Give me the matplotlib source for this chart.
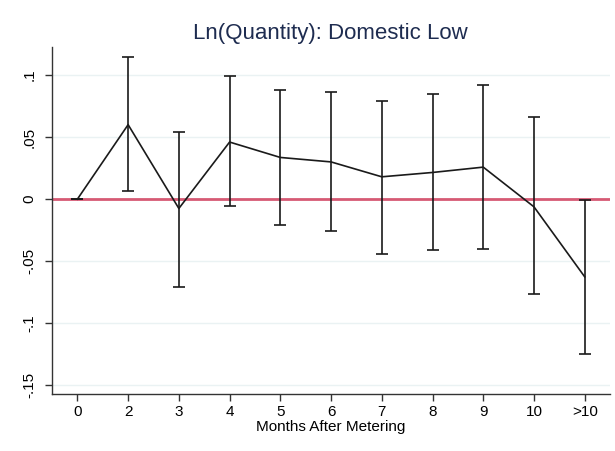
import numpy as np
import matplotlib.pyplot as plt

plt.rcParams['font.family'] = ['Liberation Sans', 'DejaVu Sans']

# coefficient estimates and 95% CI by months after metering
months = ['0', '2', '3', '4', '5', '6', '7', '8', '9', '10', '>10']
coef = [0.0, 0.060, -0.0075, 0.046, 0.0336, 0.030, 0.018, 0.0215, 0.0258, -0.0062, -0.0626]
ci_hi = [0.0, 0.1148, 0.0543, 0.0995, 0.0879, 0.0860, 0.0793, 0.0847, 0.0919, 0.0659, -0.0008]
ci_lo = [0.0, 0.0067, -0.0707, -0.0059, -0.021, -0.0255, -0.0438, -0.0411, -0.040, -0.0766, -0.125]

coef = np.array(coef)
x = np.arange(len(months))
yerr = np.vstack([coef - np.array(ci_lo), np.array(ci_hi) - coef])

fig = plt.figure(figsize=(6.15, 4.51), dpi=100)
ax = fig.add_axes([0.0846, 0.1264, 0.9074, 0.7694])

for yv in [-0.15, -0.1, -0.05, 0.05, 0.1]:
    ax.axhline(yv, color='#eaf2f3', lw=1.0, zorder=0)
ax.axhline(0, color='#d65a74', lw=2.0, zorder=1)

ax.errorbar(x, coef, yerr=yerr, fmt='none', ecolor='#1a1a1a', elinewidth=1.2,
            capsize=4, capthick=1.2, zorder=3)
ax.plot(x, coef, color='#1a1a1a', lw=1.2, zorder=3)

ax.set_xlim(-0.5, 10.5)
ax.set_ylim(-0.157, 0.1226)
ax.set_xticks(x)
ax.set_xticklabels(months, fontsize=11)
ax.set_yticks([-0.15, -0.1, -0.05, 0, 0.05, 0.1])
ax.set_yticklabels(['-.15', '-.1', '-.05', '0', '.05', '.1'], fontsize=11,
                   rotation=90, va='center')
ax.tick_params(axis='both', direction='out', length=5, width=1, color='#333333')
ax.tick_params(axis='y', pad=6)
ax.tick_params(axis='x', pad=3)

for s in ['top', 'right']:
    ax.spines[s].set_visible(False)
for s in ['left', 'bottom']:
    ax.spines[s].set_color('#333333')
    ax.spines[s].set_linewidth(1.0)

ax.set_xlabel('Months After Metering', fontsize=11, labelpad=1)
fig.text(0.537, 0.926, 'Ln(Quantity): Domestic Low', ha='center', va='center',
         fontsize=16, color='#1e2c50')

fig.savefig('out.png', dpi=100)
